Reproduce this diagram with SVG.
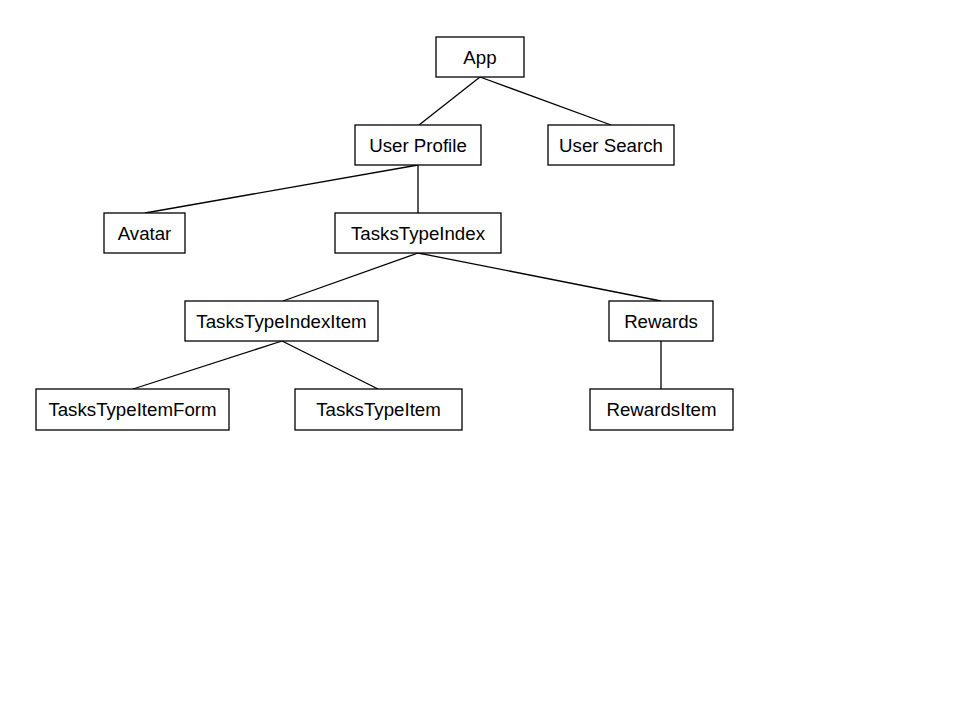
<svg xmlns="http://www.w3.org/2000/svg" width="960" height="720" viewBox="0 0 960 720">
<style>
rect{fill:#fff;stroke:#000;stroke-width:1.3}
text{font-family:"Liberation Sans",Arial,sans-serif;font-size:18.7px;fill:#000;text-anchor:middle;dominant-baseline:central}
.c line{stroke:#000;stroke-width:1.3}
</style>
<rect x="0" y="0" width="960" height="720" style="fill:#fff;stroke:none"/>
<g class="c" id="connectors">
<line x1="480" y1="77" x2="419" y2="125"/>
<line x1="480" y1="77" x2="611" y2="125"/>
<line x1="418" y1="165" x2="145" y2="213"/>
<line x1="418" y1="165" x2="418" y2="213"/>
<line x1="418" y1="253" x2="283" y2="301"/>
<line x1="418" y1="253" x2="661" y2="301"/>
<line x1="282" y1="341" x2="133" y2="389"/>
<line x1="282" y1="341" x2="378" y2="389"/>
<line x1="661" y1="341" x2="661" y2="389"/>
</g>
<g id="app"><rect x="436" y="37" width="88" height="40"/><text x="480" y="57.5">App</text></g>
<g id="userProfile"><rect x="355" y="125" width="126" height="40"/><text x="418" y="145.5">User Profile</text></g>
<g id="userSearch"><rect x="548" y="125" width="126" height="40"/><text x="611" y="145.5">User Search</text></g>
<g id="avatar"><rect x="104" y="213" width="81" height="40"/><text x="144.5" y="233.5">Avatar</text></g>
<g id="tasksTypeIndex"><rect x="335" y="213" width="166" height="40"/><text x="418" y="233.5">TasksTypeIndex</text></g>
<g id="tasksTypeIndexItem"><rect x="185" y="301" width="193" height="40"/><text x="281.5" y="321.5">TasksTypeIndexItem</text></g>
<g id="rewards"><rect x="609" y="301" width="104" height="40"/><text x="661" y="321.5">Rewards</text></g>
<g id="tasksTypeItemForm"><rect x="36" y="389" width="193" height="41"/><text x="132.5" y="409.5">TasksTypeItemForm</text></g>
<g id="tasksTypeItem"><rect x="295" y="389" width="167" height="41"/><text x="378.5" y="409.5">TasksTypeItem</text></g>
<g id="rewardsItem"><rect x="590" y="389" width="143" height="41"/><text x="661.5" y="409.5">RewardsItem</text></g>
</svg>
